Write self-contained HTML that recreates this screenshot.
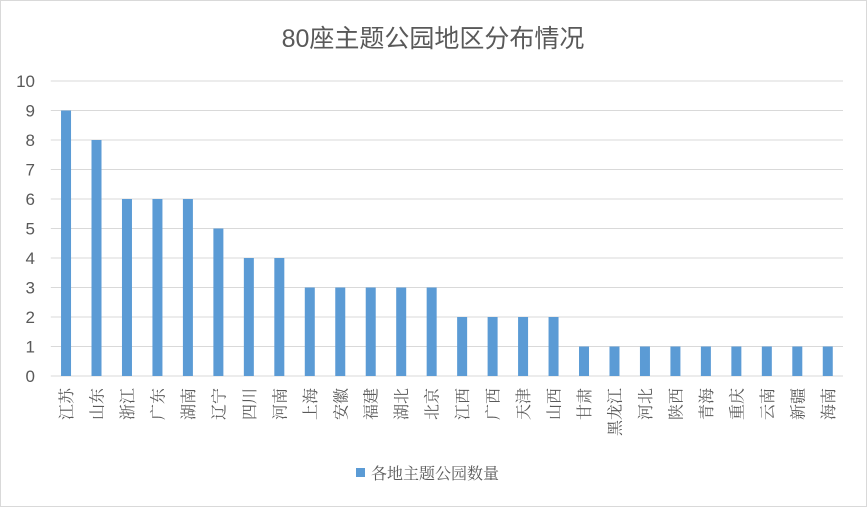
<!DOCTYPE html>
<html><head><meta charset="utf-8"><style>
body{margin:0;background:#fff;}
svg{display:block;font-family:"Liberation Sans","Noto Sans CJK SC",sans-serif;}
</style></head><body>
<svg id="chart" width="867" height="507">
<rect x="0.5" y="0.5" width="866" height="506" fill="#fff" stroke="#d9d9d9"/>
<text x="433" y="47" text-anchor="middle" font-size="25" fill="#595959">80座主题公园地区分布情况</text>
<g id="grid"></g><g id="bars"></g><g id="labels"></g>
<rect x="356" y="468" width="9" height="9" fill="#5b9bd5"/>
<text x="371" y="479" font-size="16" fill="#595959" font-family="Liberation Serif, Noto Serif CJK SC, serif">各地主题公园数量</text>
</svg>
<script>
const categories=["江苏","山东","浙江","广东","湖南","辽宁","四川","河南","上海","安徽","福建","湖北","北京","江西","广西","天津","山西","甘肃","黑龙江","河北","陕西","青海","重庆","云南","新疆","海南"];
const values=[9,8,6,6,6,5,4,4,3,3,3,3,3,2,2,2,2,1,1,1,1,1,1,1,1,1];
const yTicks=[0,1,2,3,4,5,6,7,8,9,10];
const NS="http://www.w3.org/2000/svg";
const L=50.8,R=843,T=81,B=376,yMax=10;
const y=v=>B-(B-T)*v/yMax;
const step=(R-L)/categories.length;
const x=i=>L+step*(i+0.5);
function mk(tag,attrs,parent){const e=document.createElementNS(NS,tag);for(const k in attrs)e.setAttribute(k,attrs[k]);parent.appendChild(e);return e;}
const grid=document.getElementById('grid'),bars=document.getElementById('bars'),labels=document.getElementById('labels');
yTicks.forEach(t=>{
 const ln=mk('line',{x1:L,x2:R,y1:y(t),y2:y(t),stroke:'#d9d9d9','stroke-width':1},grid);
 
 
 const tx=mk('text',{x:35,y:y(t)+6,'text-anchor':'end','font-size':17,fill:'#595959'},grid);
 tx.textContent=t;
 
 
});
categories.forEach((c,i)=>{
 const b=mk('rect',{x:x(i)-5,y:y(values[i]),width:10,height:B-y(values[i]),fill:'#5b9bd5'},bars);
 
 
 const t=mk('text',{transform:`translate(${x(i)+6},388) rotate(-90)`,'text-anchor':'end','font-size':16,fill:'#595959','font-family':'Liberation Serif, Noto Serif CJK SC, serif'},labels);
 t.textContent=c;
 
 
});
</script>
</body></html>
